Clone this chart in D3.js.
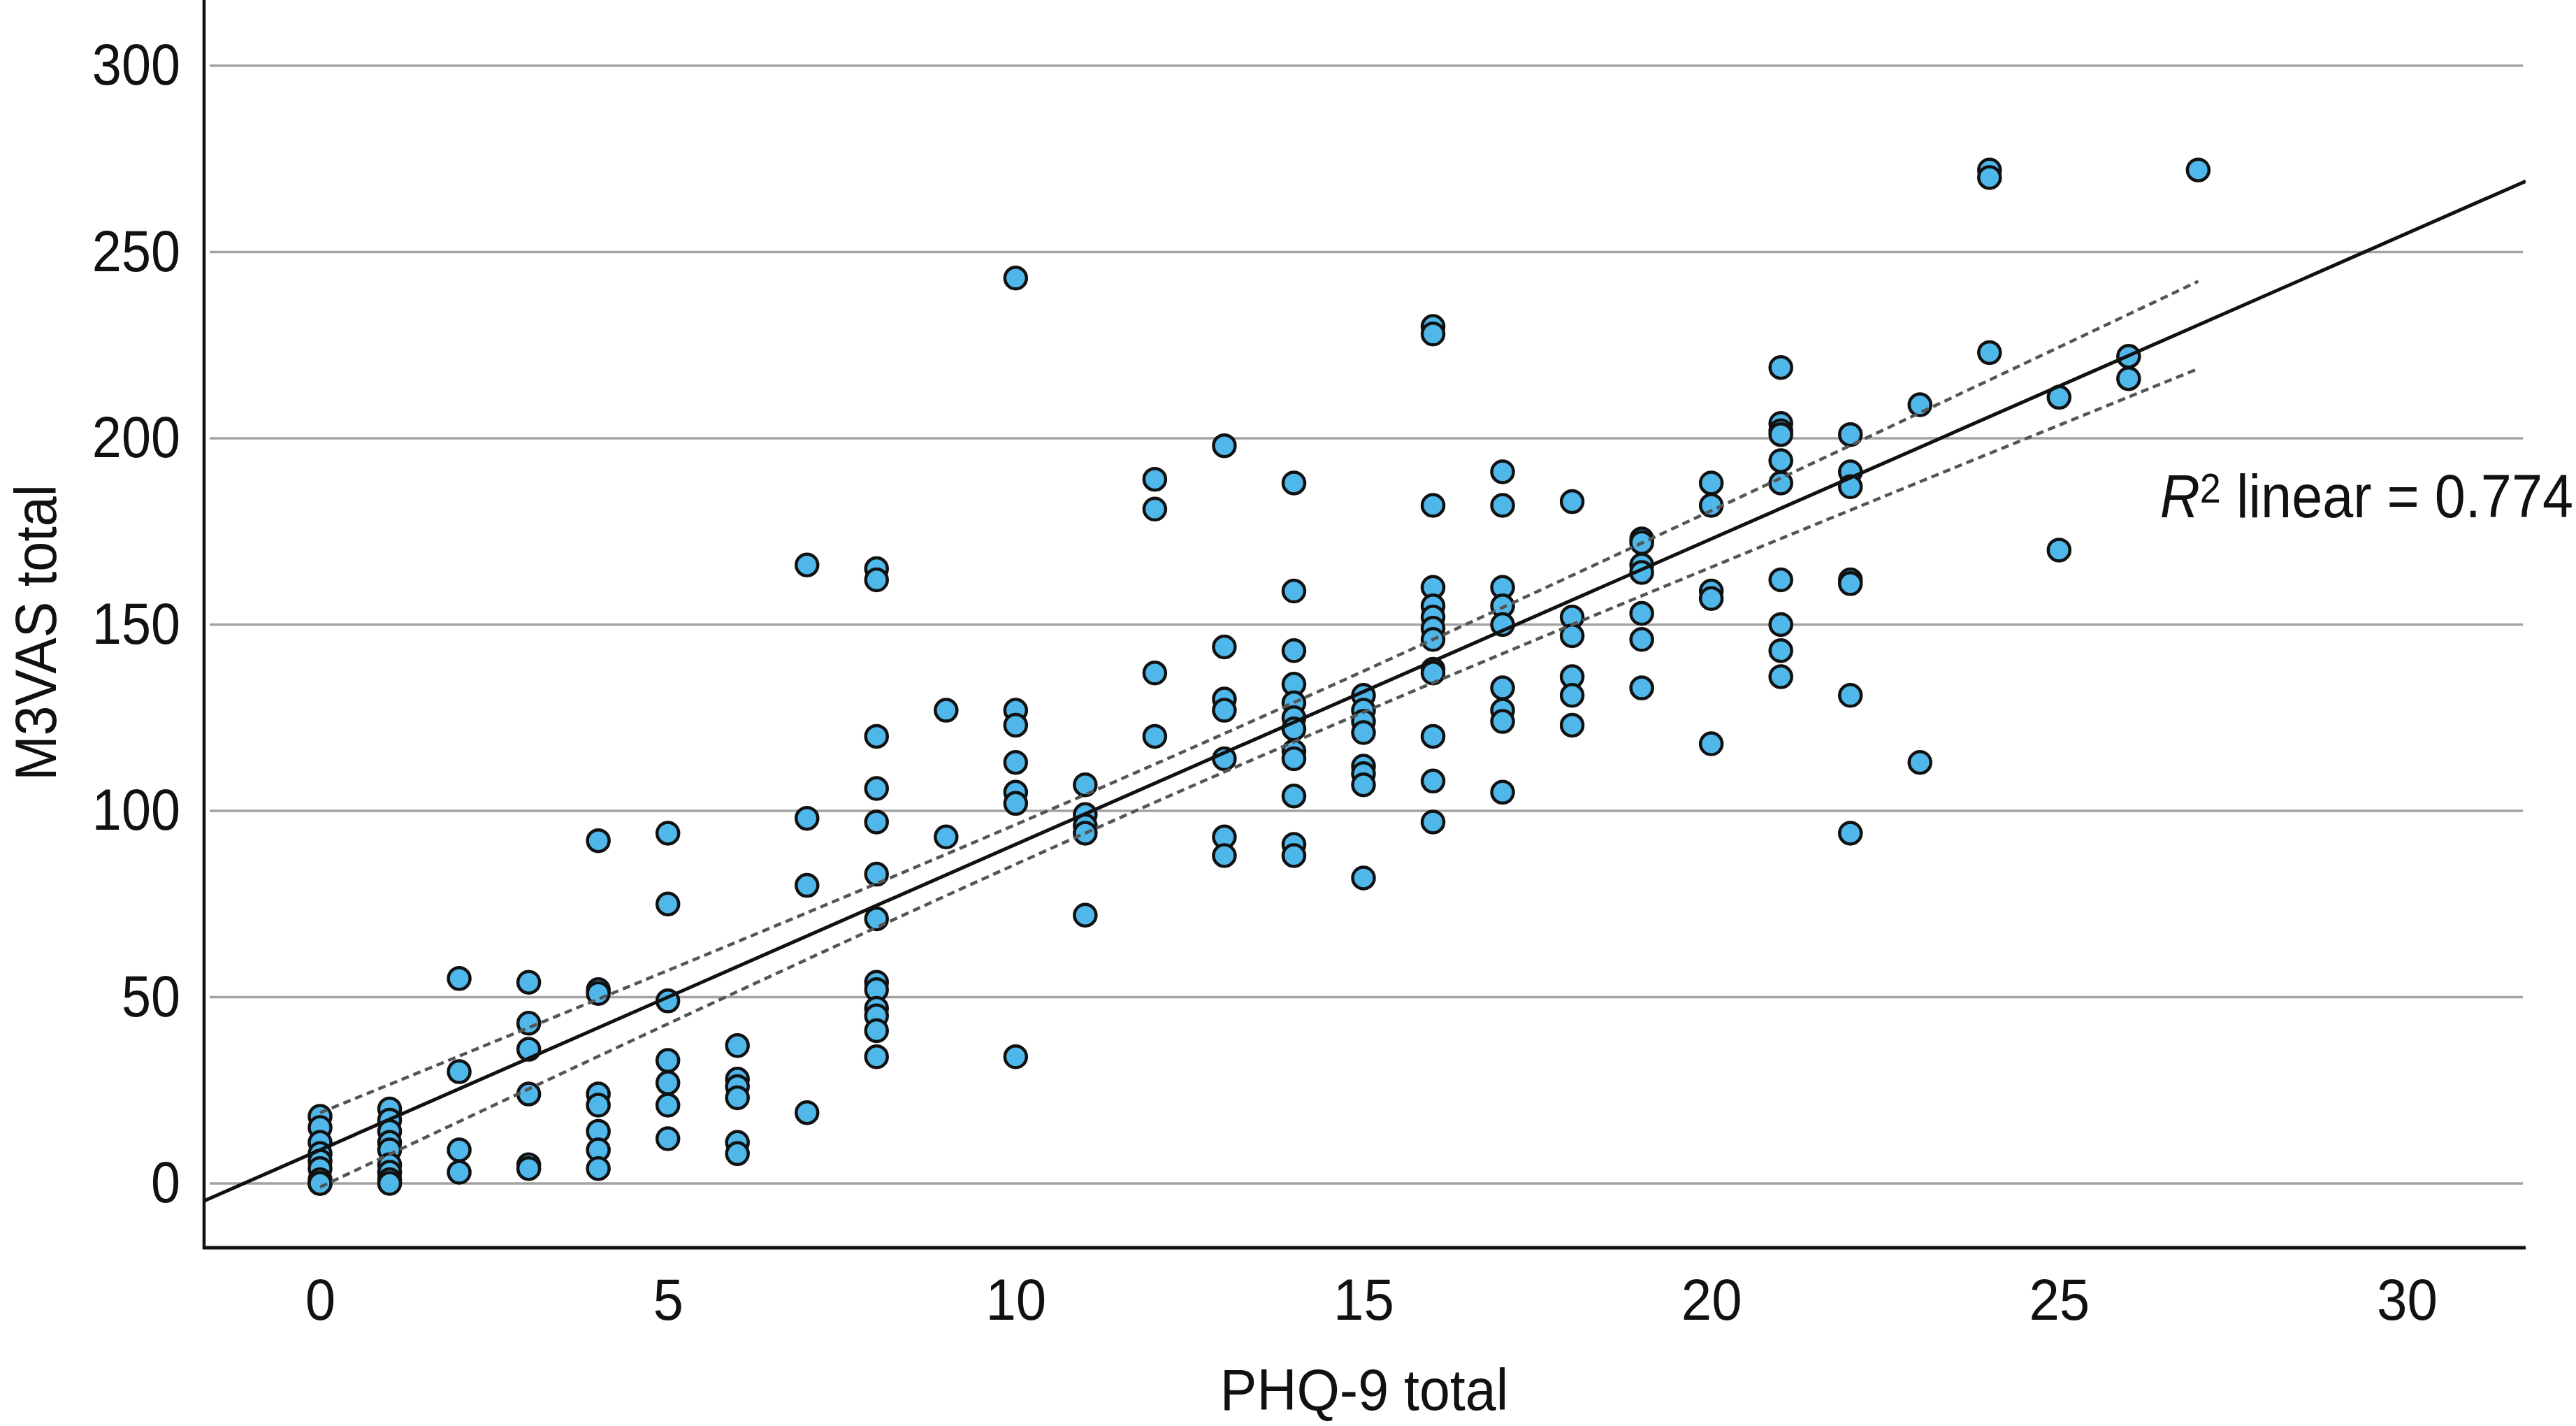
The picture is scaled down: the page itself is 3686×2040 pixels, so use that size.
<!DOCTYPE html>
<html>
<head>
<meta charset="utf-8">
<script src="https://cdn.jsdelivr.net/npm/d3@7"></script>
<style>
  html, body { margin: 0; padding: 0; background: #ffffff; }
  svg { display: block; }
  text { font-family: "Liberation Sans", Arial, "DejaVu Sans", sans-serif; fill: #111; }
</style>
</head>
<body>
<svg id="chart" width="3686" height="2040"></svg>
<script>
// ---------------- DATA ----------------
const phqTotal = [
  0,0,0,0,0,0,0,0,0,
  1,1,1,1,1,1,1,1,1,
  2,2,2,2,
  3,3,3,3,3,3,
  4,4,4,4,4,4,4,4,
  5,5,5,5,5,5,5,
  6,6,6,6,6,6,
  7,7,7,7,
  8,8,8,8,8,8,8,8,8,8,8,8,8,
  9,9,
  10,10,10,10,10,10,10,
  11,11,11,11,11,
  12,12,12,12,
  13,13,13,13,13,13,13,
  14,14,14,14,14,14,14,14,14,14,14,14,
  15,15,15,15,15,15,15,15,
  16,16,16,16,16,16,16,16,16,16,16,16,16,
  17,17,17,17,17,17,17,17,17,
  18,18,18,18,18,18,
  19,19,19,19,19,19,19,
  20,20,20,20,20,
  21,21,21,21,21,21,21,21,21,21,
  22,22,22,22,22,22,22,
  23,23,
  24,24,24,
  25,25,
  26,26,
  27
];
const m3vasTotal = [
  18,15,11,8,6,4,1,0,0,
  20,17,14,11,9,5,3,1,0,
  55,30,9,3,
  54,43,36,24,5,4,
  92,52,51,24,21,14,9,4,
  94,75,49,33,27,21,12,
  37,28,26,23,11,8,
  166,98,80,19,
  165,162,120,106,97,83,71,54,52,47,45,41,34,
  127,93,
  243,127,123,113,105,102,34,
  107,99,96,94,72,
  189,181,137,120,
  198,144,130,127,114,93,88,
  188,159,143,134,129,125,122,116,114,104,91,88,
  131,127,124,121,112,110,107,82,
  230,228,182,160,155,152,149,146,138,137,120,108,97,
  191,182,160,155,150,133,127,124,105,
  183,152,147,136,131,123,
  173,172,166,164,153,146,133,
  188,182,159,157,118,
  219,204,202,201,194,188,162,150,143,136,
  201,191,187,162,161,131,94,
  209,113,
  272,270,223,
  211,170,
  222,216,
  272
];
const xTicks = [0, 5, 10, 15, 20, 25, 30];
const yTicks = [0, 50, 100, 150, 200, 250, 300];
const xTitle = "PHQ-9 total";
const yTitle = "M3VAS total";
const r2Value = "0.774";

// ---------------- LAYOUT ----------------
const plot = { left: 292, right: 3614, top: 0, bottom: 1785 };
const svg = d3.select("#chart");

const x = d3.scaleLinear().domain([0, 30]).range([458, 3444]);
const y = d3.scaleLinear().domain([0, 300]).range([1693, 94]);

const points = phqTotal.map((v, i) => ({ x: v, y: m3vasTotal[i] }));

svg.append("defs").append("clipPath").attr("id", "plotClip")
  .append("rect")
  .attr("x", plot.left).attr("y", plot.top)
  .attr("width", plot.right - plot.left).attr("height", plot.bottom - plot.top);

// gridlines
svg.append("g").selectAll("line.grid").data(yTicks).join("line")
  .attr("class", "grid")
  .attr("x1", plot.left + 8).attr("x2", plot.right - 4)
  .attr("y1", d => y(d)).attr("y2", d => y(d))
  .attr("stroke", "#a3a3a3").attr("stroke-width", 3.5);

// y axis (labels)
const yScaleX = 0.9;
const yAxisG = svg.append("g")
  .attr("transform", `translate(${plot.left},0)`)
  .call(d3.axisLeft(y).tickValues(yTicks).tickSize(0).tickPadding(34).tickFormat(d3.format("d")));
yAxisG.select(".domain").remove();
yAxisG.selectAll("text")
  .attr("font-size", 84)
  .attr("x", -34 / yScaleX)
  .attr("transform", `scale(${yScaleX},1)`)
  .attr("fill", "#111");

// x axis (labels)
const xAxisG = svg.append("g")
  .attr("transform", `translate(0,${plot.bottom})`)
  .call(d3.axisBottom(x).tickValues(xTicks).tickSize(0).tickPadding(43).tickFormat(d3.format("d")));
xAxisG.select(".domain").remove();
xAxisG.selectAll("text")
  .attr("font-size", 84)
  .attr("transform", "scale(0.93,1)")
  .attr("fill", "#111");

// points
svg.append("g").selectAll("circle").data(points).join("circle")
  .attr("cx", d => x(d.x)).attr("cy", d => y(d.y))
  .attr("r", 15.5)
  .attr("fill", "#4fb7e9")
  .attr("stroke", "#111").attr("stroke-width", 4.5);

// linear fit + 95% CI of mean, computed from the data
const n = points.length;
const xbar = d3.mean(points, d => d.x);
const ybar = d3.mean(points, d => d.y);
const sxx = d3.sum(points, d => (d.x - xbar) ** 2);
const sxy = d3.sum(points, d => (d.x - xbar) * (d.y - ybar));
const slope = sxy / sxx;
const intercept = ybar - slope * xbar;
const sse = d3.sum(points, d => (d.y - (intercept + slope * d.x)) ** 2);
const se = Math.sqrt(sse / (n - 2));
const tcrit = 1.9735;
const fit = v => intercept + slope * v;
const hw = v => tcrit * se * Math.sqrt(1 / n + (v - xbar) ** 2 / sxx);

const lineGen = d3.line().x(d => x(d[0])).y(d => y(d[1]));
const xMin = d3.min(phqTotal), xMax = d3.max(phqTotal);
const fitDomain = [x.invert(plot.left), x.invert(plot.right)];

const ciX = d3.range(0, 101).map(i => xMin + (xMax - xMin) * i / 100);
const linesG = svg.append("g").attr("clip-path", "url(#plotClip)");
[1, -1].forEach(sgn => {
  linesG.append("path")
    .attr("d", lineGen(ciX.map(v => [v, fit(v) + sgn * hw(v)])))
    .attr("fill", "none").attr("stroke", "#555").attr("stroke-width", 4.5)
    .attr("stroke-dasharray", "11,7");
});
linesG.append("path")
  .attr("d", lineGen(fitDomain.map(v => [v, fit(v)])))
  .attr("fill", "none").attr("stroke", "#111").attr("stroke-width", 5);

// axis lines
svg.append("line")
  .attr("x1", plot.left).attr("x2", plot.left)
  .attr("y1", plot.top).attr("y2", plot.bottom + 2)
  .attr("stroke", "#111").attr("stroke-width", 4.5);
svg.append("line")
  .attr("x1", plot.left - 2).attr("x2", plot.right)
  .attr("y1", plot.bottom).attr("y2", plot.bottom)
  .attr("stroke", "#111").attr("stroke-width", 5);

// axis titles
svg.append("text")
  .attr("transform", `translate(1952,2017) scale(0.94,1)`)
  .attr("text-anchor", "middle")
  .attr("font-size", 84)
  .text(xTitle);
svg.append("text")
  .attr("transform", `translate(80,905) rotate(-90) scale(0.92,1)`)
  .attr("text-anchor", "middle")
  .attr("font-size", 84)
  .text(yTitle);

// R² annotation
const r2 = svg.append("text")
  .attr("transform", `translate(3682,740) scale(0.9,1)`)
  .attr("text-anchor", "end")
  .attr("font-size", 88);
r2.append("tspan").attr("font-style", "italic").text("R");
r2.append("tspan").attr("font-size", 60).attr("dy", -21).text("2");
r2.append("tspan").attr("dy", 21).text(" linear = " + r2Value);
</script>
</body>
</html>
